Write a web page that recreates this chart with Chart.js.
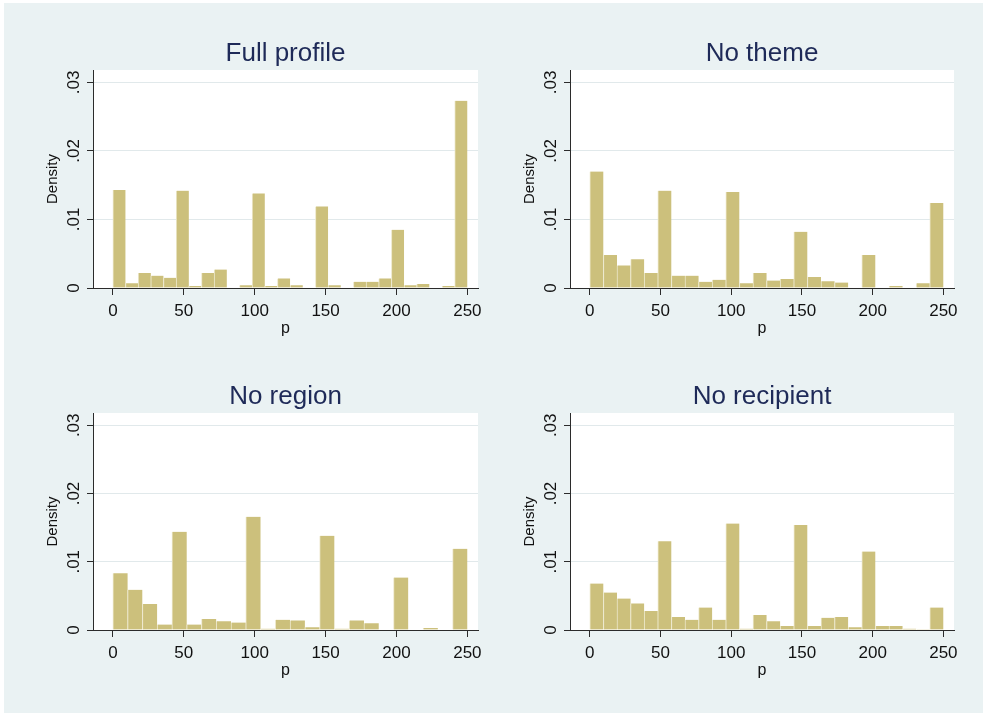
<!DOCTYPE html>
<html>
<head>
<meta charset="utf-8">
<script src="https://cdn.jsdelivr.net/npm/chart.js@4/dist/chart.umd.min.js"></script>
<style>
  html, body { margin: 0; padding: 0; background: #ffffff; }
  #frame { position: absolute; left: 4px; top: 3px; width: 979px; height: 710px; background: #EAF2F3; }
  canvas { position: absolute; }
</style>
</head>
<body>
<div id="frame"></div>
<canvas id="c1" width="510" height="357" style="left:0px;top:0px"></canvas>
<canvas id="c2" width="497" height="357" style="left:490px;top:0px"></canvas>
<canvas id="c3" width="510" height="357" style="left:0px;top:357px"></canvas>
<canvas id="c4" width="497" height="357" style="left:490px;top:357px"></canvas>
<script>
// Histogram densities of p, bins spanning 0..250 (bin count = array length)
const pRange = [0, 250];
const fullProfile = [0.0143, 0.0007, 0.0022, 0.0018, 0.0015, 0.0142, 0.0003, 0.0022, 0.0027, 0,
                     0.0004, 0.0138, 0.0003, 0.0014, 0.0004, 0, 0.0119, 0.0004, 0, 0.0009,
                     0.0009, 0.0014, 0.0085, 0.0004, 0.0006, 0, 0.0003, 0.0273];
const noTheme = [0.0170, 0.0048, 0.0033, 0.0042, 0.0022, 0.0142, 0.0018, 0.0018, 0.0009, 0.0012,
                 0.0140, 0.0007, 0.0022, 0.0011, 0.0013, 0.0082, 0.0016, 0.0010, 0.0008, 0,
                 0.0048, 0, 0.0003, 0, 0.0007, 0.0124];
const noRegion = [0.0083, 0.0059, 0.0038, 0.0008, 0.0144, 0.0008, 0.0016, 0.0013, 0.0011, 0.0166,
                  0.0002, 0.0015, 0.0014, 0.0004, 0.0138, 0.0002, 0.0014, 0.0010, 0, 0.0077,
                  0, 0.0003, 0, 0.0119];
const noRecipient = [0.0068, 0.0055, 0.0046, 0.0039, 0.0028, 0.0130, 0.0019, 0.0015, 0.0033, 0.0015,
                     0.0156, 0.0002, 0.0022, 0.0013, 0.0006, 0.0154, 0.0006, 0.0018, 0.0019, 0.0004,
                     0.0115, 0.0006, 0.0006, 0.0002, 0.0001, 0.0033];
const panelTitles = ['Full profile', 'No theme', 'No region', 'No recipient'];
const xTicks = [0, 50, 100, 150, 200, 250];
const yTicks = [0, 0.01, 0.02, 0.03];
const yTickLabels = ['0', '.01', '.02', '.03'];
const xTitle = 'p';
const yTitle = 'Density';

// Layout: canvas placement and the plot-region box for each panel (page pixels)
const layout = [
  { id: 'c1', left: 0,   top: 0,   w: 510, h: 357, area: { l: 93,  r: 478, t: 70,  b: 288 } },
  { id: 'c2', left: 490, top: 0,   w: 497, h: 357, area: { l: 570, r: 954, t: 70,  b: 288 } },
  { id: 'c3', left: 0,   top: 357, w: 510, h: 357, area: { l: 93,  r: 478, t: 413, b: 630 } },
  { id: 'c4', left: 490, top: 357, w: 497, h: 357, area: { l: 570, r: 954, t: 413, b: 630 } }
];
const series = [fullProfile, noTheme, noRegion, noRecipient];

const FONT = '"Liberation Sans", Arial, Helvetica, sans-serif';
const Y_W = 60, X_H = 60;
const TITLE_SIZE = 26, TITLE_PAD_TOP = 18, TITLE_PAD_BOTTOM = 0.8;
const TITLE_H = TITLE_SIZE * 1.2 + TITLE_PAD_TOP + TITLE_PAD_BOTTOM;
const AXIS = '#2b2b2b';
const GRID = '#E1E9EB';
const BAR = '#CCC07C';

const plotBackground = {
  id: 'plotBackground',
  beforeDraw(chart) {
    const a = chart.chartArea, ctx = chart.ctx;
    ctx.save();
    ctx.fillStyle = '#ffffff';
    ctx.fillRect(a.left, a.top, a.right - a.left, a.bottom - a.top);
    ctx.restore();
  }
};

function binPoints(values) {
  const width = (pRange[1] - pRange[0]) / values.length;
  return values.map((v, i) => ({ x: pRange[0] + (i + 0.5) * width, y: v }));
}

layout.forEach((L, k) => {
  const pad = {
    left: L.area.l - L.left - Y_W,
    right: L.left + L.w - L.area.r,
    top: L.area.t - L.top - TITLE_H,
    bottom: L.top + L.h - L.area.b - X_H
  };
  new Chart(document.getElementById(L.id), {
    type: 'bar',
    data: {
      datasets: [{
        data: binPoints(series[k]),
        backgroundColor: BAR,
        borderColor: '#EDE8CC',
        borderWidth: { left: 1, right: 0, top: 0, bottom: 0 },
        borderSkipped: false,
        barPercentage: 1,
        categoryPercentage: 1,
        grouped: false
      }]
    },
    options: {
      responsive: false,
      animation: false,
      devicePixelRatio: 1,
      layout: { padding: pad },
      plugins: {
        legend: { display: false },
        tooltip: { enabled: false },
        title: {
          display: true,
          text: panelTitles[k],
          fullSize: false,
          color: '#1E2A58',
          font: { family: FONT, size: TITLE_SIZE, weight: 'normal' },
          padding: { top: TITLE_PAD_TOP, bottom: TITLE_PAD_BOTTOM }
        }
      },
      scales: {
        x: {
          type: 'linear',
          min: -14,
          max: 257.5,
          offset: false,
          afterBuildTicks: s => { s.ticks = xTicks.map(v => ({ value: v })); },
          afterFit: s => { s.height = X_H; },
          border: { display: true, color: AXIS, width: 1 },
          grid: { offset: false, drawOnChartArea: false, drawTicks: true, tickLength: 7, tickColor: AXIS, color: AXIS },
          ticks: {
            autoSkip: false, maxRotation: 0, minRotation: 0, padding: 6,
            color: '#111111', font: { family: FONT, size: 17 },
            callback: v => String(v)
          },
          title: {
            display: true, text: xTitle, color: '#111111',
            font: { family: FONT, size: 16 },
            padding: { top: 0, bottom: 9.4 }
          }
        },
        y: {
          min: 0,
          max: 0.0318,
          afterBuildTicks: s => { s.ticks = yTicks.map(v => ({ value: v })); },
          afterFit: s => { s.width = Y_W; },
          border: { display: true, color: AXIS, width: 1 },
          grid: { drawOnChartArea: true, drawTicks: true, tickLength: 6, tickColor: AXIS, color: GRID, lineWidth: 1 },
          ticks: {
            minRotation: 90, maxRotation: 90, crossAlign: 'center', padding: 1,
            color: '#111111', font: { family: FONT, size: 17 },
            callback: v => yTickLabels[yTicks.indexOf(v)] ?? ''
          },
          title: {
            display: true, text: yTitle, color: '#111111',
            font: { family: FONT, size: 15 },
            padding: { top: 11, bottom: 0 }
          }
        }
      }
    },
    plugins: [plotBackground]
  });
});
</script>
</body>
</html>
